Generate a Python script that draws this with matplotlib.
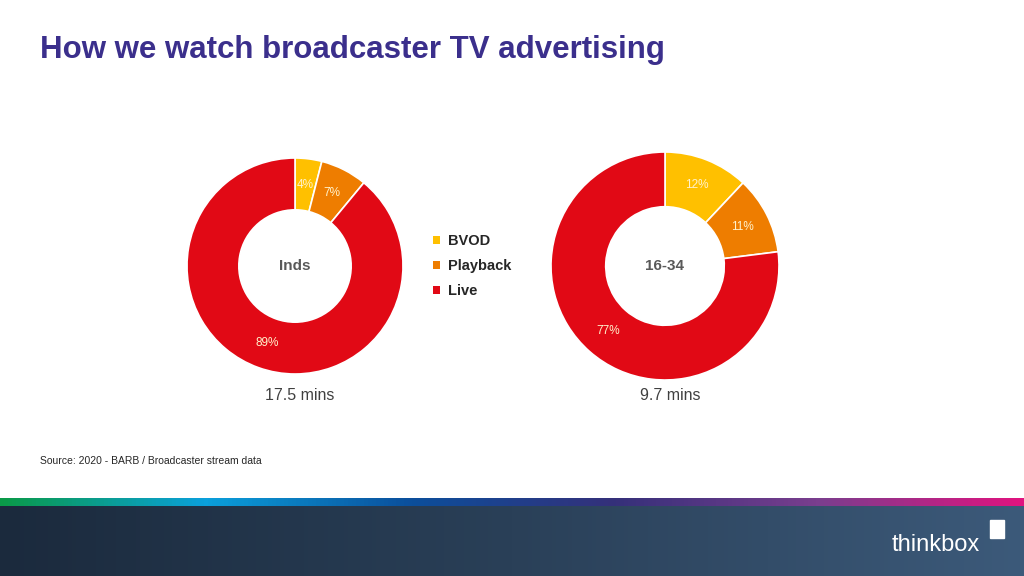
import numpy as np
import matplotlib.pyplot as plt
from matplotlib.colors import LinearSegmentedColormap
from matplotlib.patches import Patch

plt.rcParams['font.family'] = 'Liberation Sans'

# data
categories = ['BVOD', 'Playback', 'Live']
inds_values = [4, 7, 89]
young_values = [12, 11, 77]
group_labels = ['Inds', '16-34']
group_minutes = ['17.5 mins', '9.7 mins']
colors = ['#FFC000', '#EE7D00', '#E10915']

W, H = 1024, 576
fig = plt.figure(figsize=(W / 100, H / 100), dpi=100)
fig.patch.set_facecolor('white')

def px_axes(cx, cy, r):
    return fig.add_axes([(cx - r) / W, (H - cy - r) / H, 2 * r / W, 2 * r / H])

def donut(cx, cy, r, values, label, mins):
    ax = px_axes(cx, cy, r)
    ax.pie(values, colors=colors, startangle=90, counterclock=False, radius=1,
           wedgeprops=dict(width=0.48, edgecolor='white', linewidth=1.2),
           autopct='%d%%', pctdistance=0.76,
           textprops=dict(color='#FFF2CC', fontsize=8.5))
    ax.set_xlim(-1, 1)
    ax.set_ylim(-1, 1)
    ax.set_aspect('equal')
    ax.axis('off')
    fig.text(cx / W, 1 - cy / H, label, ha='center', va='center',
             fontsize=11, fontweight='bold', color='#595959')
    fig.text((cx + 5) / W, 1 - 395 / H, mins, ha='center', va='center',
             fontsize=11.5, color='#404040')

donut(295, 266, 108, inds_values, group_labels[0], group_minutes[0])
donut(665, 266, 114, young_values, group_labels[1], group_minutes[1])

# legend
handles = [Patch(facecolor=c, label=l) for c, l in zip(colors, categories)]
leg = fig.legend(handles=handles, loc='center left',
                 bbox_to_anchor=(420 / W, 1 - 266 / H), frameon=False,
                 handlelength=0.5, handleheight=0.5, handletextpad=0.5,
                 labelspacing=0.75, prop=dict(size=10.5, weight='bold'))
for t in leg.get_texts():
    t.set_color('#262626')

# title and source
fig.text(40 / W, 1 - 50 / H, 'How we watch broadcaster TV advertising',
         fontsize=22.5, fontweight='bold', color='#3B2F8C', va='center')
fig.text(40 / W, 1 - 461 / H, 'Source: 2020 - BARB / Broadcaster stream data',
         fontsize=7.5, color='#262626', va='center')

# footer gradient strip and dark band
strip = LinearSegmentedColormap.from_list('strip', ['#0A9A48', '#0AA0DC', '#0B4F9C',
                                                    '#35307A', '#7A3E8E', '#E0137F'])
ax_s = fig.add_axes([0, 1 - 506 / H, 1, 8 / H])
ax_s.imshow(np.linspace(0, 1, 256)[None, :], aspect='auto', cmap=strip)
ax_s.axis('off')
band = LinearSegmentedColormap.from_list('band', ['#1B2A3D', '#2A4058', '#3C5A7A'])
ax_b = fig.add_axes([0, 0, 1, 70 / H])
ax_b.imshow(np.linspace(0, 1, 256)[None, :], aspect='auto', cmap=band)
ax_b.axis('off')
fig.text(936 / W, 1 - 545 / H, 'thinkbox', ha='center', va='center',
         fontsize=17, color='white')
fig.patches.append(plt.Rectangle((990 / W, 1 - 538 / H), 14 / W, 18 / H,
                                 transform=fig.transFigure, color='white'))

fig.savefig('out.png', dpi=100)
